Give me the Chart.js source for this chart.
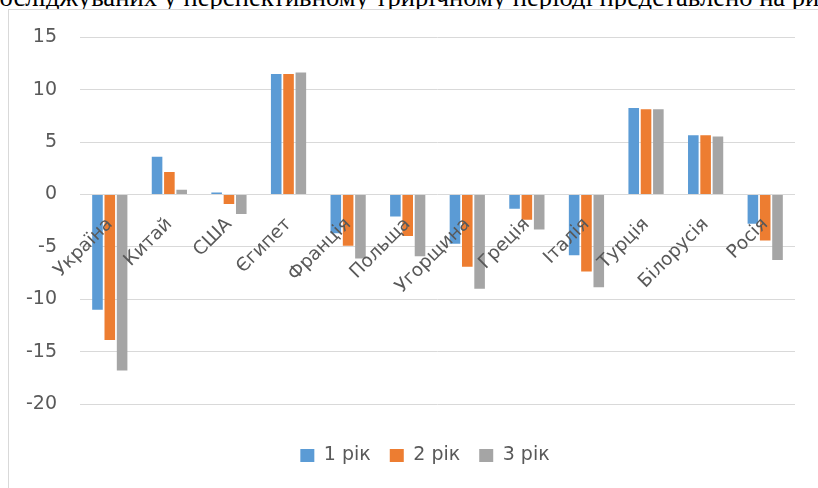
<!DOCTYPE html>
<html>
<head>
<meta charset="utf-8">
<script src="https://cdn.jsdelivr.net/npm/chart.js@4/dist/chart.umd.min.js"></script>
<style>
  html, body { margin: 0; padding: 0; background: #fff; overflow: hidden; }
  #topText {
    position: absolute; left: -14px; top: -16px; white-space: nowrap;
    font-family: "Liberation Serif", serif; font-size: 26.6px; line-height: 26px; color: #000;
  }
  #frame {
    position: absolute; left: 8px; top: 9px; width: 830px; height: 500px;
    border: 1px solid #d9d9d9; background: #fff;
  }
  #chart { position: absolute; left: 0; top: -7px; }
</style>
</head>
<body>
<div id="topText">досліджуваних у перспективному трирічному періоді представлено на рис</div>
<div id="frame"><canvas id="chart" width="809" height="478"></canvas></div>
<script>
  // категорії та значення
  const countries = ["Україна", "Китай", "США", "Єгипет", "Франція", "Польща",
                     "Угорщина", "Греція", "Італія", "Турція", "Білорусія", "Росія"];
  const year1 = [-11.0, 3.6, 0.2, 11.5, -3.7, -2.1, -4.7, -1.35, -5.8, 8.25, 5.65, -2.8];
  const year2 = [-13.9, 2.15, -0.9, 11.5, -4.9, -3.95, -6.9, -2.4, -7.35, 8.15, 5.65, -4.4];
  const year3 = [-16.8, 0.45, -1.85, 11.65, -6.1, -5.9, -9.0, -3.35, -8.85, 8.15, 5.55, -6.25];
  const seriesNames = ["1 рік", "2 рік", "3 рік"];
  const yTicks = [15, 10, 5, 0, -5, -10, -15, -20];

  const colors = ["#5b9bd5", "#ed7d31", "#a5a5a5"];
  const fontFamily = "'DejaVu Sans', sans-serif";

  // легенда в Excel стоїть трохи правіше від центру полотна
  const legendShift = {
    id: "legendShift",
    afterLayout(chart) {
      chart.legend.left += 23;
      chart.legend.right += 23;
    }
  };

  const ctx = document.getElementById("chart").getContext("2d");
  new Chart(ctx, {
    type: "bar",
    data: {
      labels: countries,
      datasets: [year1, year2, year3].map((vals, i) => ({
        label: seriesNames[i],
        data: vals,
        backgroundColor: colors[i],
        borderWidth: 0,
        categoryPercentage: 0.62,
        barPercentage: 0.86
      }))
    },
    plugins: [legendShift],
    options: {
      responsive: false,
      animation: false,
      layout: { padding: { top: 20, right: 23, left: 0, bottom: 6 } },
      plugins: {
        tooltip: { enabled: false },
        legend: {
          position: "bottom",
          title: { display: true, text: " ", font: { size: 10 }, padding: { top: 6, bottom: 5 } },
          labels: {
            boxWidth: 14,
            boxHeight: 13,
            padding: 19,
            color: "#595959",
            font: { family: fontFamily, size: 19 }
          }
        }
      },
      scales: {
        x: {
          position: { y: 0 },
          grid: { display: false, drawTicks: false },
          border: { display: false },
          ticks: {
            z: 1,
            color: "#595959",
            font: { family: fontFamily, size: 18.5 },
            minRotation: 45,
            maxRotation: 45,
            padding: 19,
            autoSkip: false
          }
        },
        y: {
          min: Math.min(...yTicks),
          max: Math.max(...yTicks),
          afterBuildTicks: (scale) => { scale.ticks = yTicks.map(v => ({ value: v })); },
          afterFit: (scale) => { scale.width = 71; },
          grid: { color: "#d9d9d9", lineWidth: 1, drawTicks: false },
          border: { display: false },
          ticks: {
            color: "#595959",
            font: { family: fontFamily, size: 19 },
            padding: 23
          }
        }
      }
    }
  });
</script>
</body>
</html>
